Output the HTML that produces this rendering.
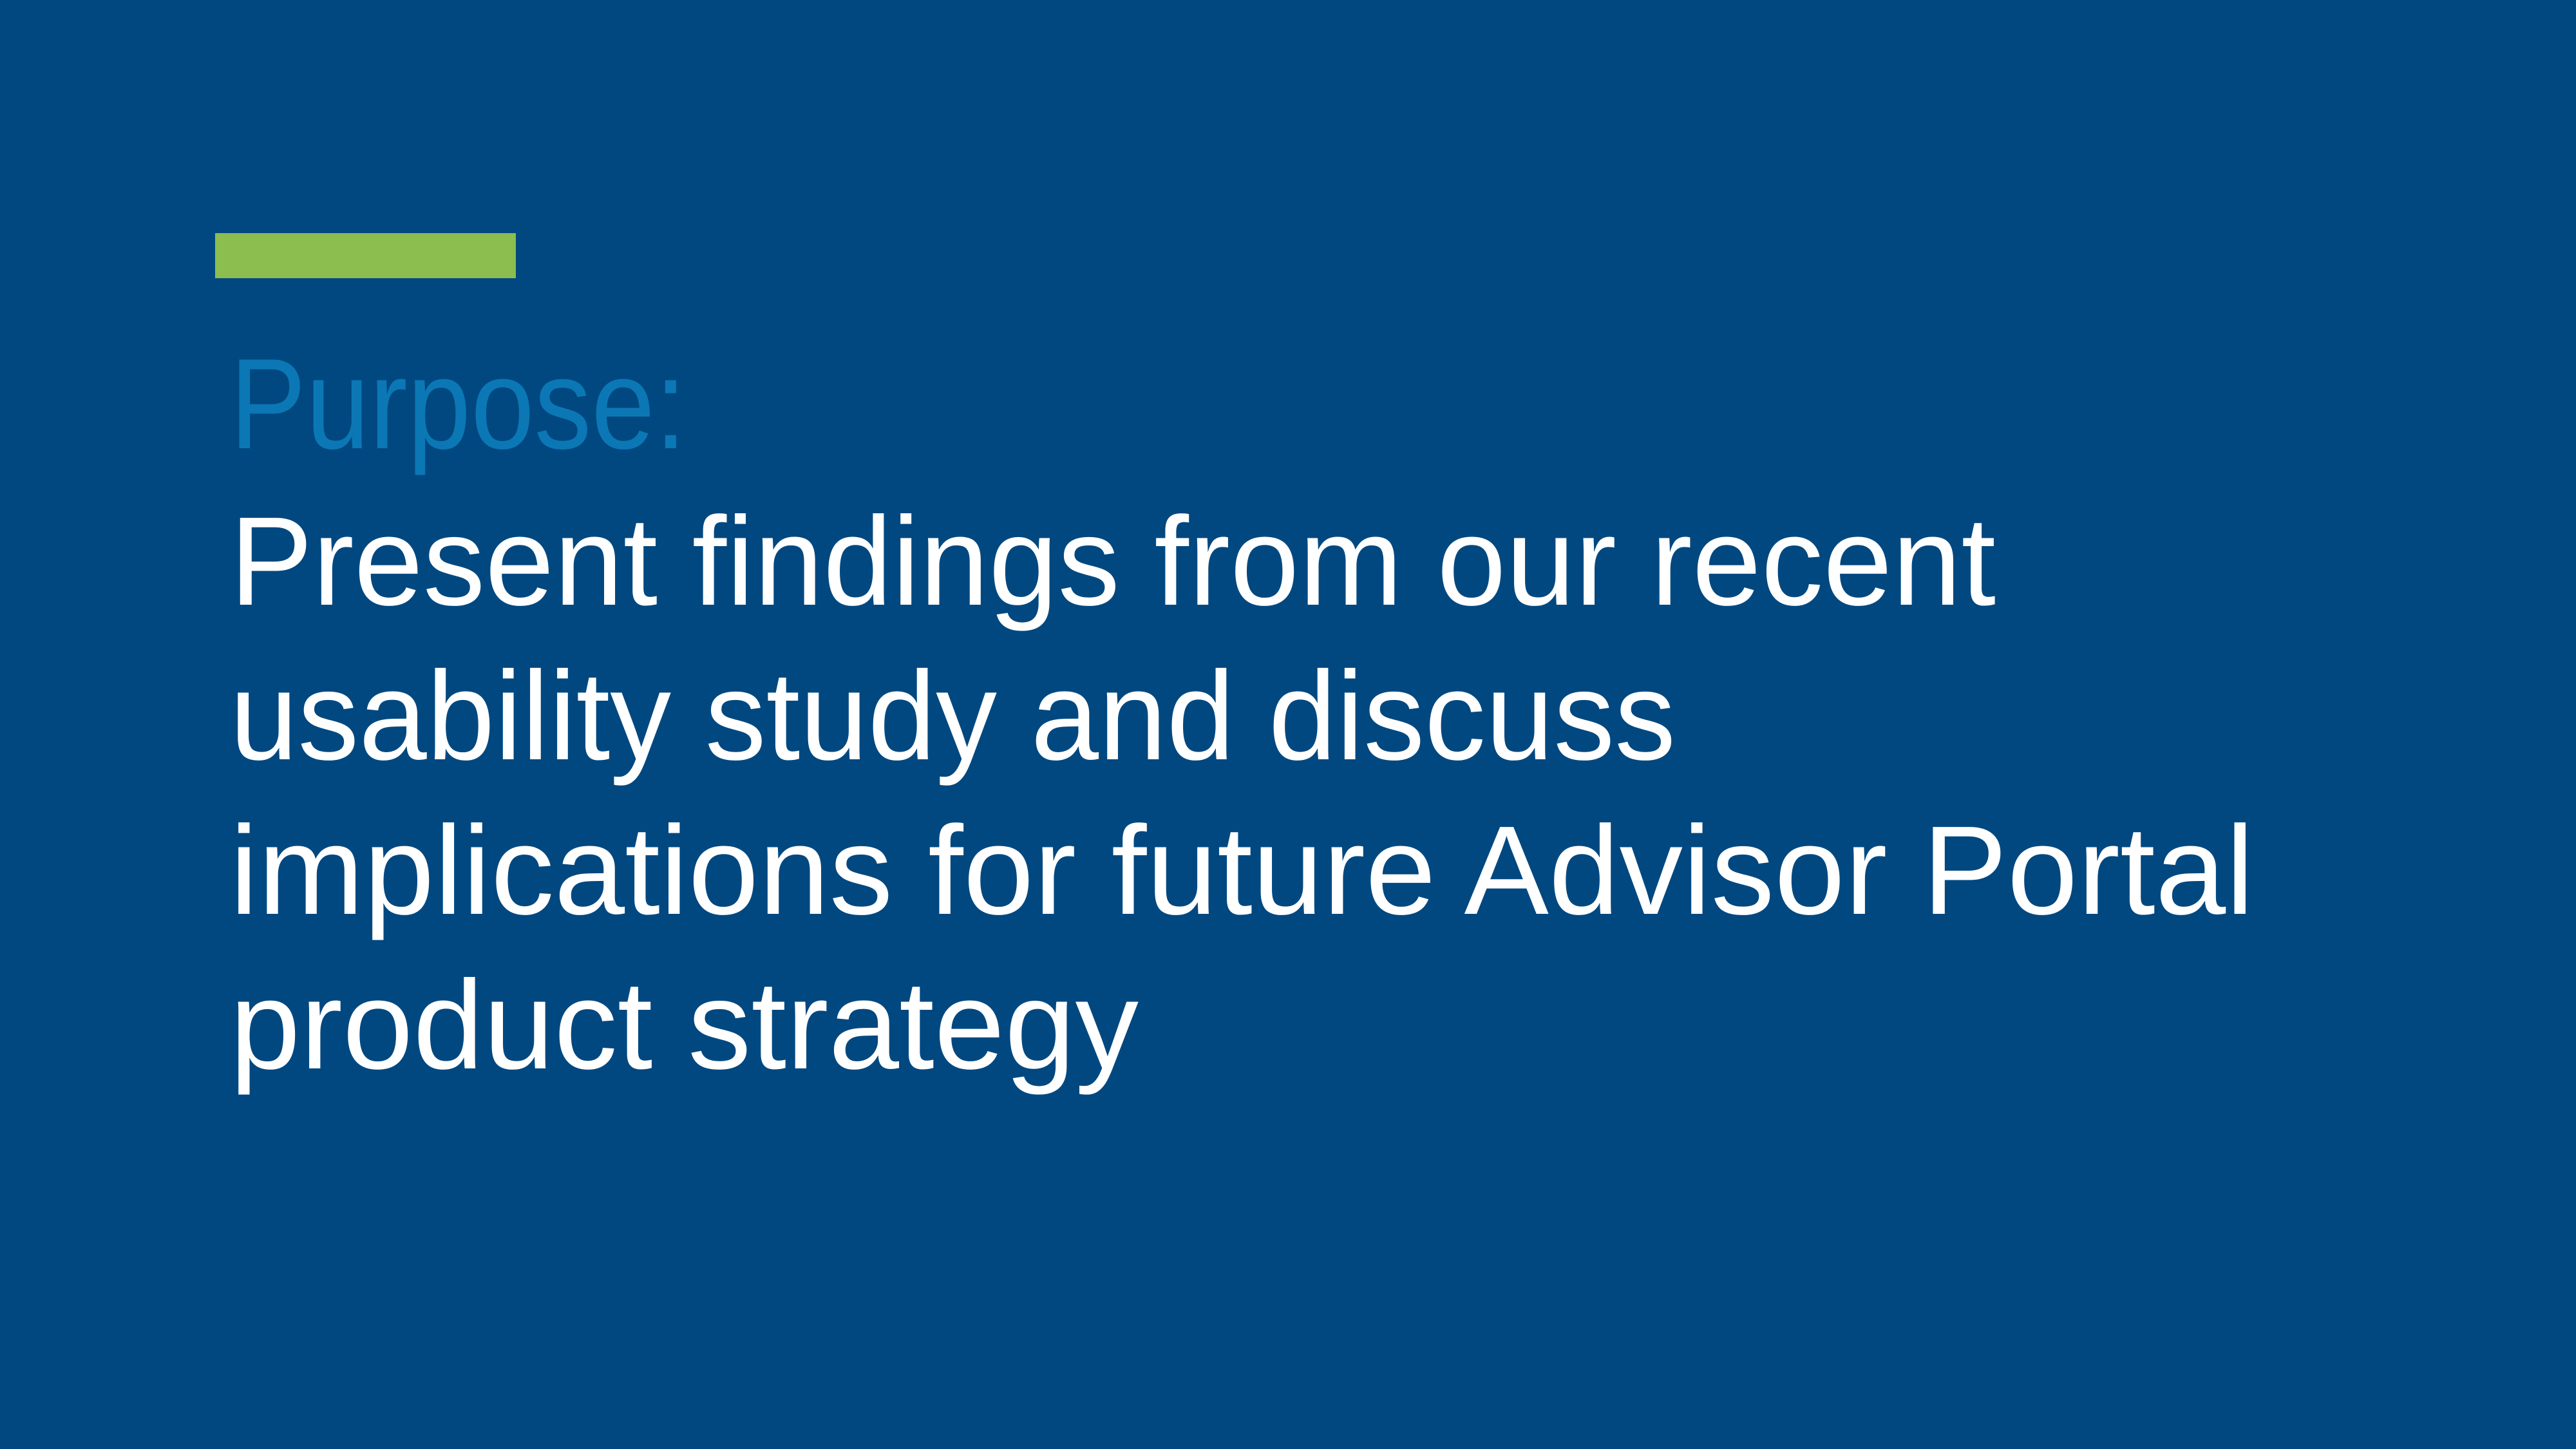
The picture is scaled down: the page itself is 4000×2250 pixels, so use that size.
<!DOCTYPE html>
<html>
<head>
<meta charset="utf-8">
<style>
  html, body { margin: 0; padding: 0; }
  body { width: 4000px; height: 2250px; background: #024880; overflow: hidden; }
  svg { display: block; }
  text { font-family: "Liberation Sans", sans-serif; }
</style>
</head>
<body>
<svg width="4000" height="2250" viewBox="0 0 4000 2250">
  <rect x="0" y="0" width="4000" height="2250" fill="#024880"/>
  <rect x="334" y="362" width="467" height="70" fill="#8bbd4f"/>
  <text x="357" y="696" font-size="200" fill="#0b78b5" textLength="709" lengthAdjust="spacingAndGlyphs">Purpose:</text>
  <g fill="#ffffff" font-size="196">
    <text x="357" y="939" textLength="2742" lengthAdjust="spacingAndGlyphs">Present findings from our recent</text>
    <text x="357" y="1179" textLength="2245" lengthAdjust="spacingAndGlyphs">usability study and discuss</text>
    <text x="357" y="1419" textLength="3143" lengthAdjust="spacingAndGlyphs">implications for future Advisor Portal</text>
    <text x="357" y="1659" textLength="1411" lengthAdjust="spacingAndGlyphs">product strategy</text>
  </g>
</svg>
</body>
</html>
